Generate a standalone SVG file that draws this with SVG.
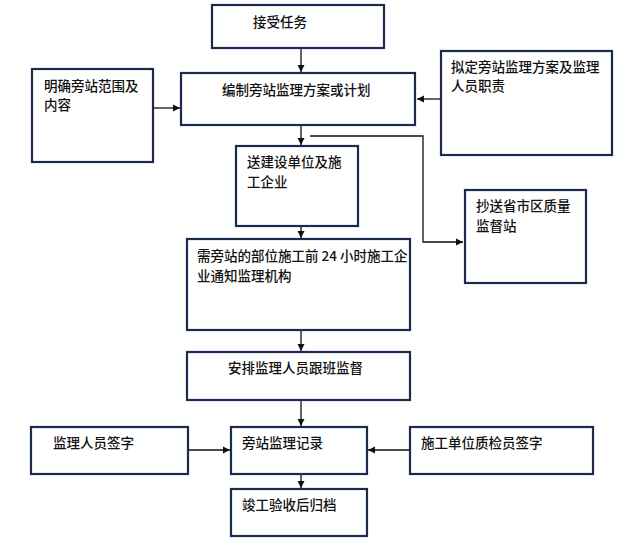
<svg xmlns="http://www.w3.org/2000/svg" width="640" height="557" viewBox="0 0 640 557">
<style>
.b{fill:#fff;stroke:#1b2a4e;stroke-width:2.2}
.t{font-family:"Noto Sans CJK SC",sans-serif;font-size:13.5px;fill:#111;font-weight:500}
.c{stroke:#111;stroke-width:1.3;fill:none;marker-end:url(#a)}
</style>
<defs><marker id="a" markerWidth="8" markerHeight="8" refX="7" refY="4" orient="auto" markerUnits="userSpaceOnUse"><path d="M0,0.5L7,4L0,7.5z" fill="#111"/></marker></defs>
<rect width="640" height="557" fill="#fff"/>
<g id="connectors">
<path class="c" d="M301,48V72"/>
<path class="c" d="M148,108H180"/>
<path class="c" d="M441,99H417"/>
<path class="c" d="M301,125V145"/>
<path class="c" d="M310,136H423V242H463"/>
<path class="c" d="M301,227V238"/>
<path class="c" d="M301,331V351"/>
<path class="c" d="M301,401V426"/>
<path class="c" d="M188,450H230"/>
<path class="c" d="M410,450H368"/>
<path class="c" d="M301,475V488"/>
</g>
<g id="n1"><rect class="b" x="212" y="5" width="172" height="43"/><text class="t" x="253" y="27">接受任务</text></g>
<g id="n2"><rect class="b" x="181" y="73" width="234" height="52"/><text class="t" x="222" y="95">编制旁站监理方案或计划</text></g>
<g id="n3"><rect class="b" x="32" y="69" width="121" height="93"/><text class="t" x="44" y="91">明确旁站范围及</text><text class="t" x="44" y="110">内容</text></g>
<g id="n4"><rect class="b" x="441" y="51" width="171" height="104"/><text class="t" x="451" y="72">拟定旁站监理方案及监理</text><text class="t" x="451" y="91">人员职责</text></g>
<g id="n5"><rect class="b" x="236" y="146" width="122" height="80"/><text class="t" x="247" y="167">送建设单位及施</text><text class="t" x="247" y="187">工企业</text></g>
<g id="n6"><rect class="b" x="465" y="190" width="121" height="93"/><text class="t" x="476" y="211">抄送省市区质量</text><text class="t" x="476" y="231">监督站</text></g>
<g id="n7"><rect class="b" x="187" y="239" width="223" height="91"/><text class="t" x="197" y="261">需旁站的部位施工前 24 小时施工企</text><text class="t" x="197" y="281">业通知监理机构</text></g>
<g id="n8"><rect class="b" x="187" y="352" width="223" height="48"/><text class="t" x="228" y="373">安排监理人员跟班监督</text></g>
<g id="n9"><rect class="b" x="31" y="427" width="157" height="47"/><text class="t" x="53" y="448">监理人员签字</text></g>
<g id="n10"><rect class="b" x="231" y="427" width="136" height="47"/><text class="t" x="242" y="448">旁站监理记录</text></g>
<g id="n11"><rect class="b" x="410" y="427" width="183" height="47"/><text class="t" x="421" y="448">施工单位质检员签字</text></g>
<g id="n12"><rect class="b" x="231" y="489" width="136" height="47"/><text class="t" x="242" y="510">竣工验收后归档</text></g>
</svg>
